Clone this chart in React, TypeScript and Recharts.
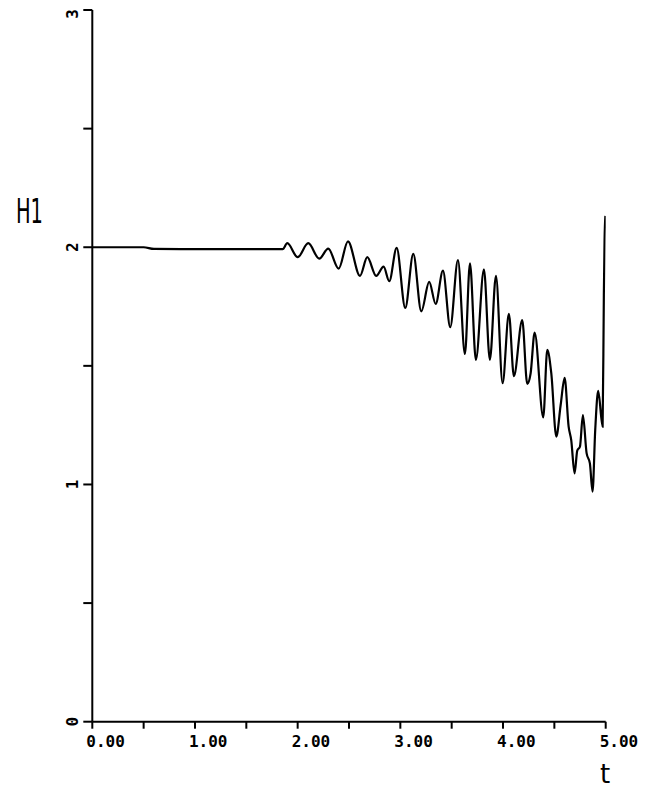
import React from "react";
import { LineChart, Line, XAxis, YAxis, Label } from "recharts";

const tValues = [
  0, 0.5, 0.6, 1.0, 1.5, 1.854,
  1.899, 2.0, 2.103, 2.21, 2.298, 2.399, 2.49, 2.607, 2.678, 2.765, 2.837, 2.892,
  2.964, 3.048, 3.126, 3.204, 3.281, 3.344, 3.415, 3.486, 3.561, 3.629, 3.678, 3.736,
  3.814, 3.872, 3.931, 3.996, 4.057, 4.106, 4.187, 4.236, 4.269, 4.308, 4.392, 4.431,
  4.47, 4.519, 4.561, 4.6, 4.639, 4.664, 4.697, 4.723, 4.749, 4.778, 4.814, 4.846,
  4.872, 4.898, 4.927, 4.97, 4.982, 4.989, 4.997,
];

const hValues = [
  2.0, 2.0, 1.993, 1.992, 1.992, 1.992,
  2.017, 1.958, 2.017, 1.952, 1.994, 1.91, 2.025, 1.879, 1.958, 1.879, 1.918, 1.857,
  1.997, 1.744, 1.972, 1.73, 1.854, 1.761, 1.901, 1.663, 1.946, 1.55, 1.932, 1.525,
  1.907, 1.525, 1.879, 1.427, 1.719, 1.457, 1.693, 1.424, 1.469, 1.64, 1.283, 1.567,
  1.469, 1.202, 1.334, 1.449, 1.244, 1.188, 1.047, 1.143, 1.159, 1.292, 1.132, 1.089,
  0.97, 1.23, 1.395, 1.244, 1.799, 2.031, 2.132,
];

const xTicks = [0, 0.5, 1, 1.5, 2, 2.5, 3, 3.5, 4, 4.5, 5];
const yTicks = [0, 0.5, 1, 1.5, 2, 2.5, 3];
const xLabelTicks = [0, 1, 2, 3, 4, 5];
const yLabelTicks = [0, 1, 2, 3];
const yTitle = "H1";
const xTitle = "t";

const data = tValues.map((t, i) => ({ t, h: hValues[i] }));

const XTick = (props: any) => {
  const { x, y, payload } = props;
  const v = payload.value;
  if (!xLabelTicks.some((k) => Math.abs(k - v) < 1e-9)) return <g />;
  return (
    <text
      x={x - 6}
      y={y + 16}
      textAnchor="start"
      fontFamily="'DejaVu Sans Mono', monospace"
      fontWeight="bold"
      fontSize={16}
      fill="#000"
    >
      {v.toFixed(2)}
    </text>
  );
};

const YTick = (props: any) => {
  const { x, y, payload } = props;
  const v = payload.value;
  if (!yLabelTicks.some((k) => Math.abs(k - v) < 1e-9)) return <g />;
  const cx = x - 9;
  const cy = v === 3 ? y + 4 : y;
  return (
    <text
      x={cx}
      y={cy}
      dy="0.36em"
      textAnchor="middle"
      transform={`rotate(-90 ${cx} ${cy})`}
      fontFamily="'DejaVu Sans Mono', monospace"
      fontWeight="bold"
      fontSize={16}
      fill="#000"
    >
      {String(v)}
    </text>
  );
};

export default function App() {
  return (
    <LineChart
      width={651}
      height={783}
      data={data}
      margin={{ top: 2, right: 53.3, bottom: 0, left: 0 }}
    >
      <XAxis
        type="number"
        dataKey="t"
        domain={[0, 5]}
        ticks={xTicks}
        allowDataOverflow
        height={69.3}
        tickSize={7}
        axisLine={{ stroke: "#000", strokeWidth: 2 }}
        tickLine={{ stroke: "#000", strokeWidth: 2 }}
        tick={<XTick />}
        interval={0}
      >
        <Label
          content={() => (
            <text
              x={597}
              y={775}
              textAnchor="middle"
              fontFamily="'DejaVu Sans', sans-serif"
              fontSize={26}
              fill="#000"
            >
              {xTitle}
            </text>
          )}
        />
      </XAxis>
      <YAxis
        type="number"
        domain={[0, 3]}
        ticks={yTicks}
        width={84.3}
        tickSize={9}
        axisLine={{ stroke: "#000", strokeWidth: 2 }}
        tickLine={{ stroke: "#000", strokeWidth: 2 }}
        tick={<YTick />}
        interval={0}
      >
        <Label
          content={() => (
            <text
              x={8}
              y={215}
              textLength={27}
              lengthAdjust="spacingAndGlyphs"
              fontFamily="'DejaVu Sans', sans-serif"
              fontSize={34}
              fill="#000"
            >
              {yTitle}
            </text>
          )}
        />
      </YAxis>
      <Line
        type="monotone"
        dataKey="h"
        stroke="#000"
        strokeWidth={2.2}
        dot={false}
        isAnimationActive={false}
      />
    </LineChart>
  );
}
